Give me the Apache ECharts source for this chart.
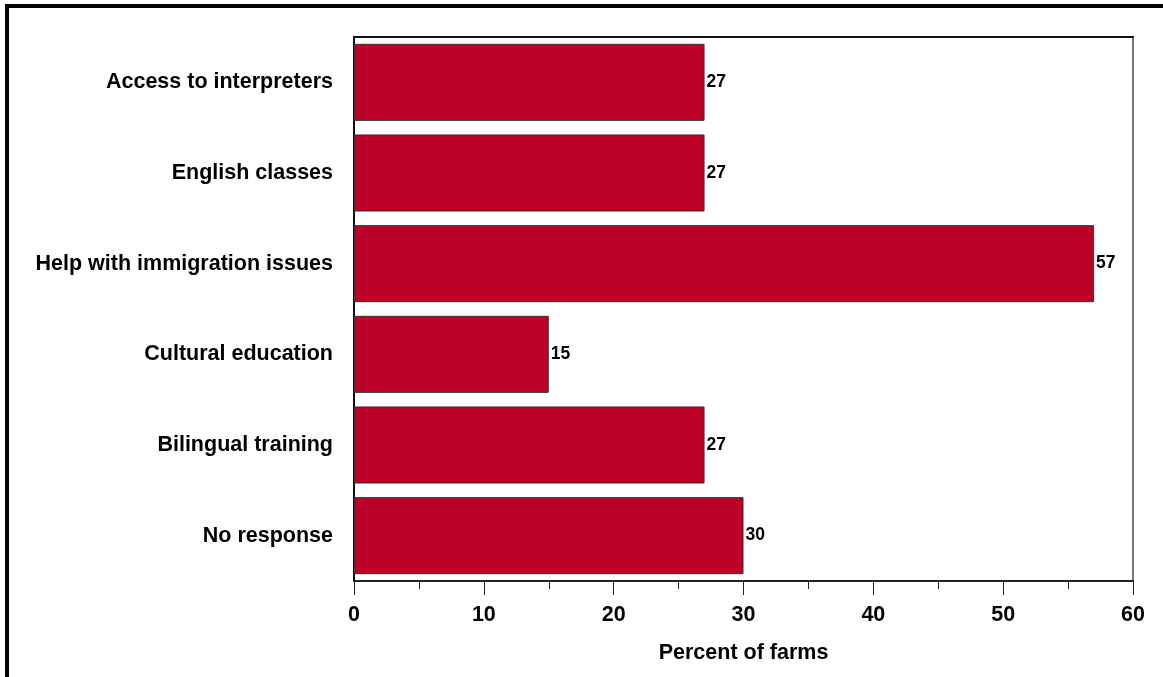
<!DOCTYPE html>
<html><head><meta charset="utf-8">
<script src="https://cdn.jsdelivr.net/npm/echarts@6/dist/echarts.min.js"></script>
<style>html,body{margin:0;padding:0;background:#fff}#c{width:1163px;height:677px}</style>
</head><body><div id="c"></div>
<script>
const categories = ["Access to interpreters","English classes","Help with immigration issues","Cultural education","Bilingual training","No response"];
const values = [27,27,57,15,27,30];
const xTicks = {min:0,max:60,interval:10};
const axisName = "Percent of farms";

const FONT = "'Liberation Sans', Arial, sans-serif";
const chart = echarts.init(document.getElementById('c'), null, {renderer:'canvas'});
chart.setOption({
  animation:false,
  backgroundColor:'#fff',
  grid:{left:354,right:30,top:37,bottom:96,containLabel:false},
  xAxis:[{
    type:'value', min:xTicks.min, max:xTicks.max, interval:xTicks.interval, position:'bottom',
    name:axisName, nameLocation:'middle', nameGap:61,
    nameTextStyle:{fontFamily:FONT,fontWeight:'bold',fontSize:21.5,color:'#000'},
    axisLine:{show:true,onZero:false,lineStyle:{color:'#222',width:2}},
    axisTick:{show:true,inside:false,length:14,lineStyle:{color:'#222',width:1}},
    minorTick:{show:true,splitNumber:2,length:8,lineStyle:{color:'#222',width:1}},
    axisLabel:{fontFamily:FONT,fontWeight:'bold',fontSize:21.5,color:'#000',margin:23},
    splitLine:{show:false}
  },{
    type:'value', min:xTicks.min, max:xTicks.max, position:'top',
    axisLine:{show:true,onZero:false,lineStyle:{color:'#111',width:2}},
    axisTick:{show:false},axisLabel:{show:false},splitLine:{show:false}
  }],
  yAxis:[{
    type:'category', data:categories, inverse:true, position:'left',
    axisLine:{show:true,onZero:false,lineStyle:{color:'#111',width:2}},
    axisTick:{show:false},
    axisLabel:{fontFamily:FONT,fontWeight:'bold',fontSize:21.5,color:'#000',margin:21}
  },{
    type:'category', data:categories, inverse:true, position:'right',
    axisLine:{show:true,onZero:false,lineStyle:{color:'#777',width:2}},
    axisTick:{show:false},axisLabel:{show:false}
  }],
  series:[{
    type:'bar', data:values, xAxisIndex:0, yAxisIndex:0,
    barCategoryGap:'15%',
    itemStyle:{color:'#BD0026',borderColor:'#333',borderWidth:1},
    label:{show:true,position:'right',distance:2,fontFamily:FONT,fontWeight:'bold',fontSize:17.5,color:'#000'}
  }],
  graphic:[
    {type:'line',shape:{x1:5,y1:6,x2:1163,y2:6},style:{stroke:'#000',lineWidth:4}},
    {type:'line',shape:{x1:7,y1:4,x2:7,y2:677},style:{stroke:'#000',lineWidth:4}}
  ]
});
</script></body></html>
